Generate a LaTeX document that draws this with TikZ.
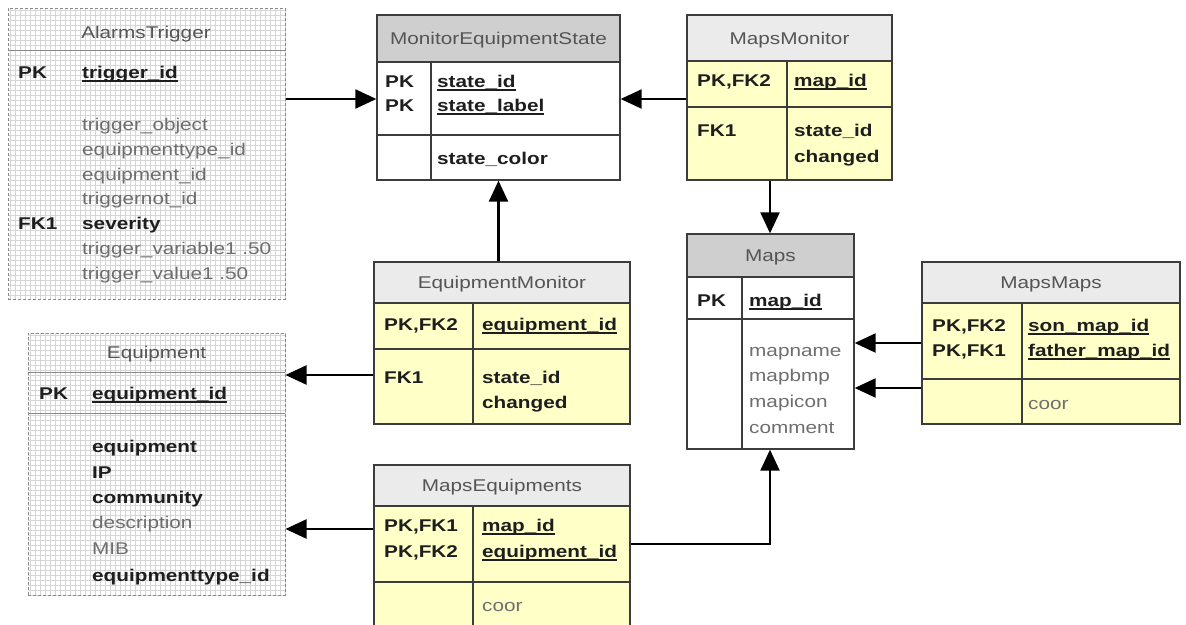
\documentclass[tikz,border=0pt]{standalone}
\usepackage{fontspec}
\setmainfont[FakeStretch=1.22]{Liberation Sans}
\usetikzlibrary{arrows.meta,fit}

\definecolor{tblline}{HTML}{3C3C3C}
\definecolor{gridline}{HTML}{D6D6D6}
\definecolor{dashline}{HTML}{8A8A8A}
\definecolor{headlight}{HTML}{EBEBEB}
\definecolor{headdark}{HTML}{CFCFCF}
\definecolor{rowyellow}{HTML}{FFFFC8}
\definecolor{titletext}{HTML}{555555}
\definecolor{softtext}{HTML}{6E6E6E}
\definecolor{darktext}{HTML}{1E1E1E}

% key columns are underlined with a heavier rule
\newcommand\keyname[1]{\setbox0=\hbox{#1}\rlap{\rule[-3.5pt]{\wd0}{1.3pt}}\box0}

\tikzset{
  tablebox/.style={draw=tblline, line width=1.3pt, inner sep=0pt},
  gridbox/.style={draw=dashline, dash pattern=on 3pt off 2pt, line width=1pt, inner sep=0pt},
  rule/.style={draw=tblline, line width=1.3pt},
  softrule/.style={draw=dashline, line width=1pt},
  tabtitle/.style={font=\fontsize{17pt}{25pt}\selectfont, text=titletext, inner sep=0pt, anchor=base},
  fieldtxt/.style={font=\fontsize{17pt}{25pt}\selectfont, text=darktext, anchor=base west, inner sep=0pt},
  fieldbold/.style={fieldtxt, font=\fontsize{17pt}{25pt}\selectfont\bfseries},
  fieldsoft/.style={fieldtxt, text=softtext},
  fk/.style={draw=black, line width=2.2pt, -{Triangle[length=21pt,width=19pt]}},
}

\begin{document}
\begin{tikzpicture}[x=1pt, y=-1pt]
\useasboundingbox (0,0) rectangle (1186,624);
\fill[white] (0,0) rectangle (1186,624);

% ---------------- AlarmsTrigger ----------------
\draw[gridline, line width=0.45pt, step=5pt] (8,8) grid (285,299);
\draw[softrule] (8,50) -- (285,50);
\node[gridbox, fit={(8,8) (285,299)}] (at) {};
\node[tabtitle] at (146,38) {AlarmsTrigger};
\node[fieldbold] at (18,78) {PK};
\node[fieldbold] at (82,78) {\keyname{trigger\_id}};
\foreach \yy/\txt in {130/trigger\_object, 155/equipmenttype\_id, 180/equipment\_id,
                      204/triggernot\_id, 254/trigger\_variable1 .50, 279/trigger\_value1 .50}
  \node[fieldsoft] at (82,\yy) {\txt};
\node[fieldbold] at (18,229) {FK1};
\node[fieldbold] at (82,229) {severity};

% ---------------- Equipment ----------------
\draw[gridline, line width=0.45pt, step=5pt] (28,333) grid (285,595);
\draw[softrule] (28,372) -- (285,372) (28,413) -- (285,413);
\node[gridbox, fit={(28,333) (285,595)}] (eq) {};
\node[tabtitle] at (156.5,358) {Equipment};
\node[fieldbold] at (39,399) {PK};
\node[fieldbold] at (92,399) {\keyname{equipment\_id}};
\foreach \yy/\txt in {452/equipment, 478/IP, 503/community, 581/equipmenttype\_id}
  \node[fieldbold] at (92,\yy) {\txt};
\foreach \yy/\txt in {528/description, 554/MIB}
  \node[fieldsoft] at (92,\yy) {\txt};

% ---------------- MonitorEquipmentState ----------------
\fill[headdark] (377,15) rectangle (620,62);
\fill[white] (377,62) rectangle (620,180);
\draw[rule] (377,62) -- (620,62) (377,135) -- (620,135) (431,62) -- (431,180);
\node[tablebox, fit={(377,15) (620,180)}] (mes) {};
\node[tabtitle] at (498.5,44) {MonitorEquipmentState};
\node[fieldbold] at (385,87) {PK};
\node[fieldbold] at (385,111) {PK};
\node[fieldbold] at (437,87) {\keyname{state\_id}};
\node[fieldbold] at (437,111) {\keyname{state\_label}};
\node[fieldbold] at (437,164) {state\_color};

% ---------------- MapsMonitor ----------------
\fill[headlight] (687,15) rectangle (892,61);
\fill[rowyellow] (687,61) rectangle (892,180);
\draw[rule] (687,61) -- (892,61) (687,107) -- (892,107) (787,61) -- (787,180);
\node[tablebox, fit={(687,15) (892,180)}] (mm) {};
\node[tabtitle] at (789.5,44) {MapsMonitor};
\node[fieldbold] at (697,86) {PK,FK2};
\node[fieldbold] at (794,86) {\keyname{map\_id}};
\node[fieldbold] at (697,136) {FK1};
\node[fieldbold] at (794,136) {state\_id};
\node[fieldbold] at (794,162) {changed};

% ---------------- Maps ----------------
\fill[headdark] (687,234) rectangle (854,277);
\fill[white] (687,277) rectangle (854,449);
\draw[rule] (687,277) -- (854,277) (687,319) -- (854,319) (742,277) -- (742,449);
\node[tablebox, fit={(687,234) (854,449)}] (maps) {};
\node[tabtitle] at (770.5,261) {Maps};
\node[fieldbold] at (697,306) {PK};
\node[fieldbold] at (749,306) {\keyname{map\_id}};
\foreach \yy/\txt in {356/mapname, 381/mapbmp, 407/mapicon, 433/comment}
  \node[fieldsoft] at (749,\yy) {\txt};

% ---------------- MapsMaps ----------------
\fill[headlight] (922,262) rectangle (1180,303);
\fill[rowyellow] (922,303) rectangle (1180,424);
\draw[rule] (922,303) -- (1180,303) (922,379) -- (1180,379) (1022,303) -- (1022,424);
\node[tablebox, fit={(922,262) (1180,424)}] (mmaps) {};
\node[tabtitle] at (1051,288) {MapsMaps};
\node[fieldbold] at (932,331) {PK,FK2};
\node[fieldbold] at (932,356) {PK,FK1};
\node[fieldbold] at (1028,331) {\keyname{son\_map\_id}};
\node[fieldbold] at (1028,356) {\keyname{father\_map\_id}};
\node[fieldsoft] at (1028,409) {coor};

% ---------------- EquipmentMonitor ----------------
\fill[headlight] (374,262) rectangle (630,303);
\fill[rowyellow] (374,303) rectangle (630,424);
\draw[rule] (374,303) -- (630,303) (374,349) -- (630,349) (473,303) -- (473,424);
\node[tablebox, fit={(374,262) (630,424)}] (em) {};
\node[tabtitle] at (502,288) {EquipmentMonitor};
\node[fieldbold] at (384,330) {PK,FK2};
\node[fieldbold] at (482,330) {\keyname{equipment\_id}};
\node[fieldbold] at (384,383) {FK1};
\node[fieldbold] at (482,383) {state\_id};
\node[fieldbold] at (482,408) {changed};

% ---------------- MapsEquipments ----------------
\fill[headlight] (374,465) rectangle (630,506);
\fill[rowyellow] (374,506) rectangle (630,640);
\draw[rule] (374,506) -- (630,506) (374,582) -- (630,582) (473,506) -- (473,640);
\node[tablebox, fit={(374,465) (630,640)}] (me) {};
\node[tabtitle] at (502,491) {MapsEquipments};
\node[fieldbold] at (384,531) {PK,FK1};
\node[fieldbold] at (384,557) {PK,FK2};
\node[fieldbold] at (482,531) {\keyname{map\_id}};
\node[fieldbold] at (482,557) {\keyname{equipment\_id}};
\node[fieldsoft] at (482,611) {coor};

% ---------------- relationships ----------------
\coordinate (rowState) at (0,99);
\coordinate (rowEM) at (0,375);
\coordinate (rowMEeq) at (0,529);
\coordinate (rowMEmaps) at (0,544);
\coordinate (rowSon) at (0,343);
\coordinate (rowFather) at (0,388);
\coordinate (laneMaps) at (770,0);

\draw[fk] (at.east |- rowState) -- (mes.west |- rowState);
\draw[fk] (mm.west |- rowState) -- (mes.east |- rowState);
\draw[fk] (em.north -| mes.south) -- (mes.south);
\draw[fk] (mm.south -| laneMaps) -- (maps.north -| laneMaps);
\draw[fk] (em.west |- rowEM) -- (eq.east |- rowEM);
\draw[fk] (me.west |- rowMEeq) -- (eq.east |- rowMEeq);
\draw[fk] (me.east |- rowMEmaps) -| (maps.south -| laneMaps);
\draw[fk] (mmaps.west |- rowSon) -- (maps.east |- rowSon);
\draw[fk] (mmaps.west |- rowFather) -- (maps.east |- rowFather);
\end{tikzpicture}
\end{document}
